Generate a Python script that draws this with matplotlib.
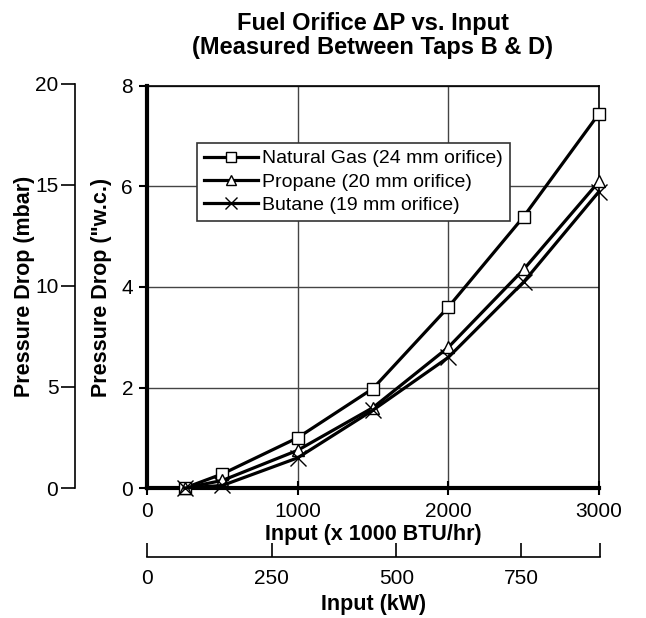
import matplotlib
matplotlib.use("Agg")
import matplotlib.pyplot as plt
import numpy as np

plt.rcParams['font.family'] = ['Liberation Sans', 'DejaVu Sans']

# input in 1000 BTU/hr
inputs = [250, 500, 1000, 1500, 2000, 2500, 3000]
# pressure drop in "w.c.
natural_gas = [0.0, 0.28, 1.0, 1.98, 3.6, 5.4, 7.45]
propane = [0.0, 0.15, 0.75, 1.6, 2.8, 4.35, 6.1]
butane = [0.0, 0.05, 0.6, 1.55, 2.6, 4.1, 5.9]

series_labels = ['Natural Gas (24 mm orifice)', 'Propane (20 mm orifice)', 'Butane (19 mm orifice)']
series_markers = ['s', '^', 'x']

x_ticks = [0, 1000, 2000, 3000]
y_ticks = [0, 2, 4, 6, 8]
mbar_ticks = [0, 5, 10, 15, 20]
kw_ticks = [0, 250, 500, 750]

W, H = 646, 618
fig = plt.figure(figsize=(W / 100, H / 100), dpi=100)

def box(x0, y0, x1, y1):
    # pixel box -> figure fraction
    return [x0 / W, 1 - y1 / H, (x1 - x0) / W, (y1 - y0) / H]

ax = fig.add_axes(box(147, 86, 599, 488))
for vals, lab, mk in zip([natural_gas, propane, butane], series_labels, series_markers):
    ax.plot(inputs, vals, color='black', lw=2.3, marker=mk, markersize=9 if mk != 'x' else 11,
            markerfacecolor='white', markeredgecolor='black', markeredgewidth=1.0,
            label=lab, clip_on=False, zorder=3)

ax.set_xlim(0, 3000)
ax.set_ylim(0, 8)
ax.set_xticks(x_ticks)
ax.set_yticks(y_ticks)
ax.grid(True, color='#444444', lw=1.0)
ax.tick_params(axis='x', direction='inout', length=10, width=1.5, labelsize=15, pad=5)
ax.tick_params(axis='y', direction='out', length=6, width=1.5, labelsize=15, pad=4)
ax.spines['left'].set_linewidth(3)
ax.spines['bottom'].set_linewidth(3)
ax.spines['top'].set_linewidth(1.2)
ax.spines['right'].set_linewidth(1.2)
ax.set_xlabel('Input (x 1000 BTU/hr)', fontsize=15.5, fontweight='bold', labelpad=2)
ax.set_ylabel('Pressure Drop ("w.c.)', fontsize=15.5, fontweight='bold', labelpad=7)
ax.set_title('Fuel Orifice \u0394P vs. Input\n(Measured Between Taps B & D)',
             fontsize=17, fontweight='bold', pad=23, linespacing=1.05)

leg = ax.legend(loc='upper left', bbox_to_anchor=(50 / 452, 1 - 57 / 402), fontsize=14,
                frameon=True, fancybox=False, edgecolor='#333333', framealpha=1,
                handlelength=2.8, handletextpad=0.2, borderpad=0.35, labelspacing=0.3,
                borderaxespad=0, markerscale=0.85)
leg.get_frame().set_linewidth(1.2)

# secondary mbar axis on the left
ax2 = fig.add_axes(box(75, 84, 75.1, 488))
ax2.set_ylim(0, 20)
ax2.set_yticks(mbar_ticks)
ax2.set_xticks([])
for s in ['top', 'right', 'bottom']:
    ax2.spines[s].set_visible(False)
ax2.spines['left'].set_linewidth(1.2)
ax2.tick_params(axis='y', direction='out', length=10, width=1.2, labelsize=15, pad=2)
ax2.set_ylabel('Pressure Drop (mbar)', fontsize=15.5, fontweight='bold', labelpad=0)
ax2.patch.set_visible(False)

# secondary kW axis at the bottom
ax3 = fig.add_axes(box(147, 540, 600, 557))
ax3.set_xlim(0, 908)
ax3.set_xticks(kw_ticks + [908])
ax3.set_xticklabels([str(t) for t in kw_ticks] + [''])
ax3.set_yticks([])
for s in ['top', 'right', 'left']:
    ax3.spines[s].set_visible(False)
ax3.spines['bottom'].set_linewidth(1.2)
ax3.tick_params(axis='x', direction='in', length=10, width=1.2, labelsize=15, pad=9)
ax3.set_xlabel('Input (kW)', fontsize=15.5, fontweight='bold', labelpad=4)
ax3.patch.set_visible(False)

fig.savefig('out.png', dpi=100)
